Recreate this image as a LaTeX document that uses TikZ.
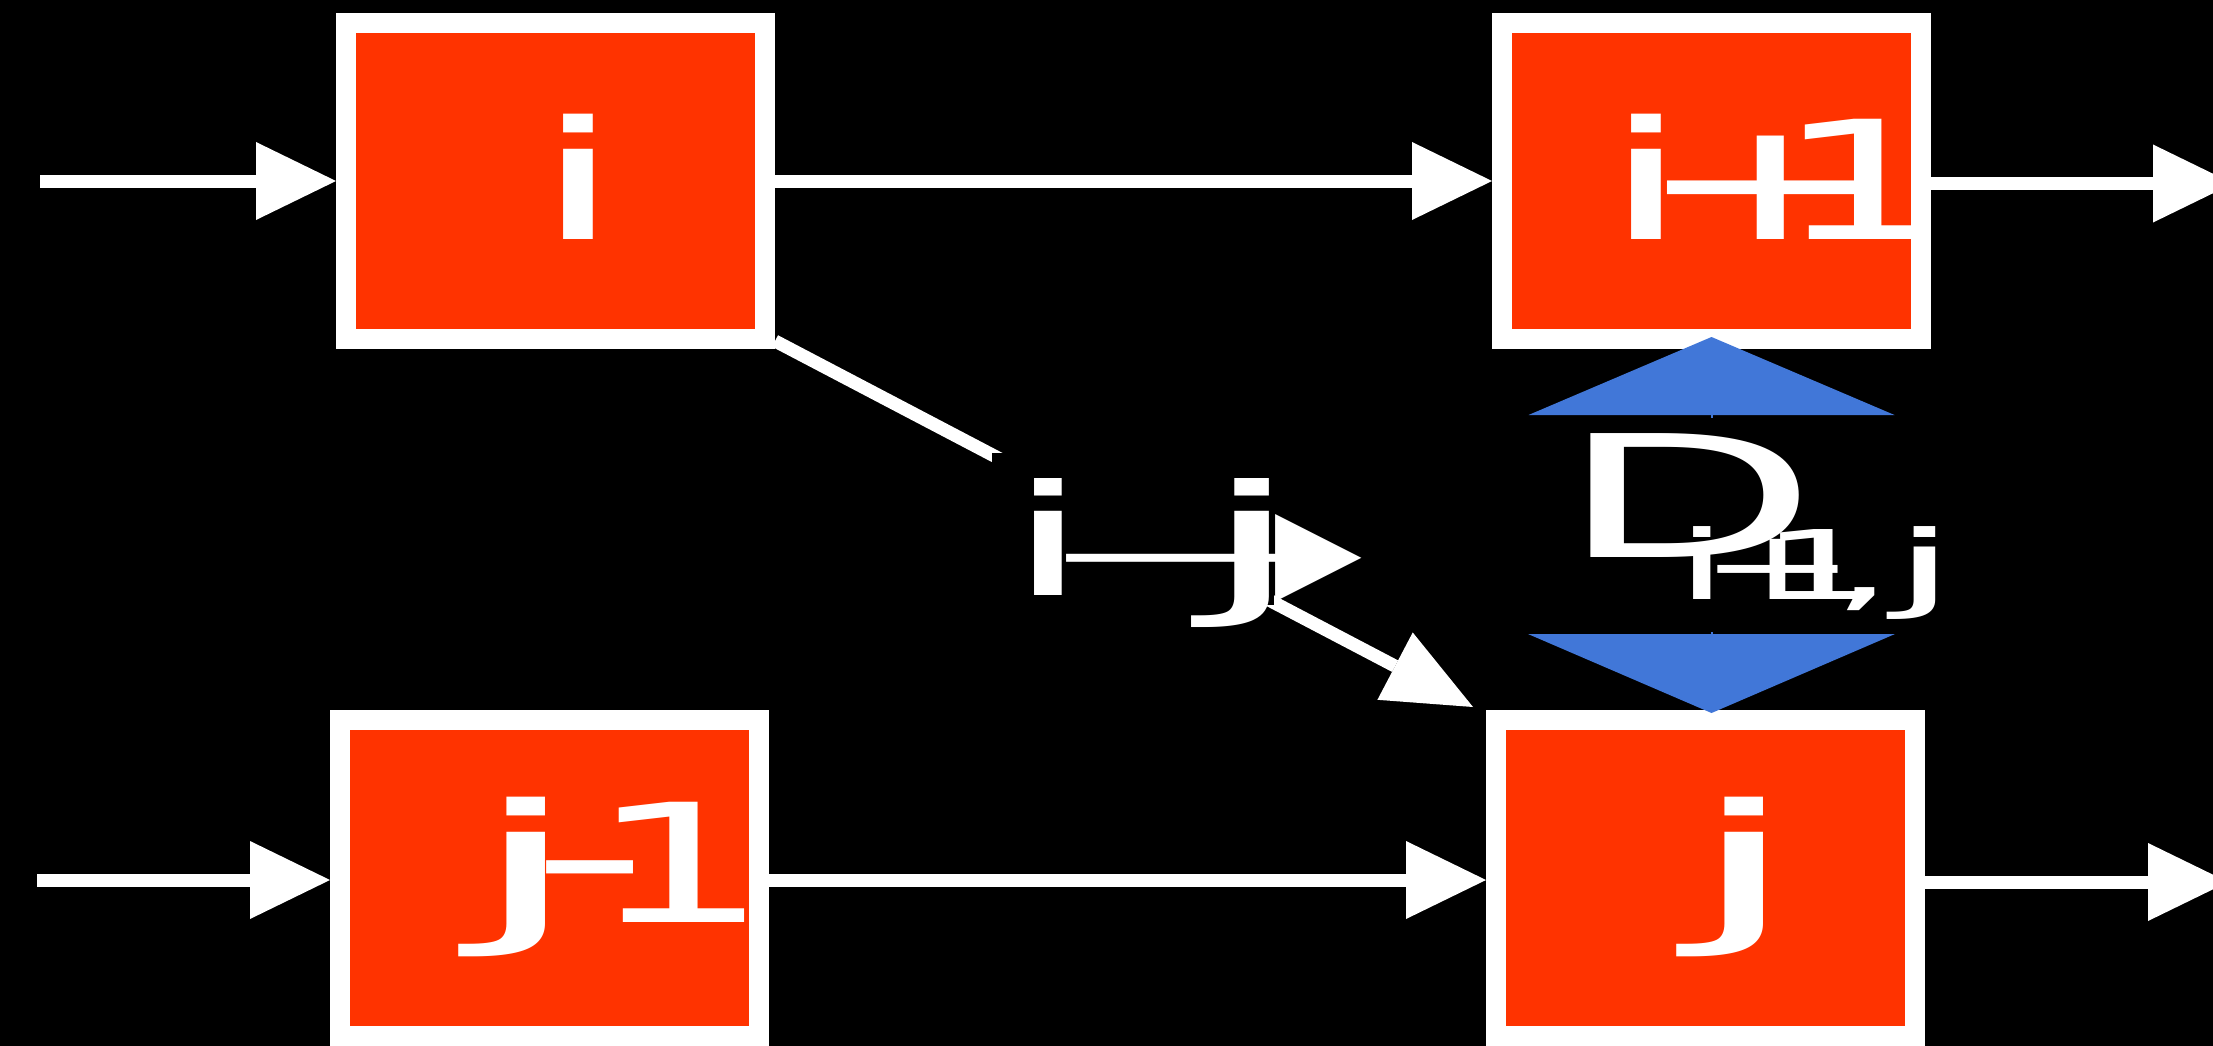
\documentclass[tikz,border=0pt]{standalone}
\usepackage{fontspec}
\usepackage{graphicx}
\usetikzlibrary{arrows.meta,calc}
\newfontfamily\djv{DejaVu Sans}
\definecolor{boxred}{HTML}{FF3300}
\definecolor{dblue}{HTML}{4177D8}
% glyph placed at offset (#2,#3) from the node reference, stretched #1 horizontally
\newcommand\gl[4][2]{\rlap{\hspace*{#2pt}\raisebox{#3pt}{\makebox[0pt]{\scalebox{#1}[1]{#4}}}}}
\newcommand\glxy[5]{\rlap{\hspace*{#3pt}\raisebox{#4pt}{\makebox[0pt]{\scalebox{#1}[#2]{#5}}}}}
\newcommand\fs[1]{\djv\fontsize{#1pt}{#1pt}\selectfont}
\begin{document}
\begin{tikzpicture}[x=1pt,y=-1pt,
  box/.style={rectangle, fill=boxred, draw=white, line width=20pt,
    minimum width=419pt, minimum height=316pt, inner sep=0pt,
    text height=0pt, text depth=0pt, text=white, font=\fs{165}},
  flow/.style={draw=white, line width=13pt,
    -{Triangle[length=80pt,width=78pt,line width=0pt]}},
  diag/.style={draw=white, line width=13pt,
    -{Triangle[length=88pt,width=76pt,line width=0pt]}},
  lab/.style={fill=black, inner sep=0pt, minimum width=282pt,
    minimum height=152pt, text height=137pt, text depth=15pt,
    text=white, font=\fs{154}},
  dbl/.style={draw=dblue, line width=2pt,
    {Triangle[length=78pt,width=366pt,line width=0pt]}-{Triangle[length=79pt,width=367pt,line width=0pt]}},
  dlab/.style={fill=black, inner sep=0pt, minimum width=40pt,
    minimum height=214pt, text height=0pt, text depth=0pt,
    text=white, font=\fs{170}}
]
\fill[black] (0,0) rectangle (2213,1046);
\useasboundingbox (0,0) rectangle (2213,1046);

\node[box] (i)   at (555.5,181) {\gl{22.5}{-58}{i}};
\node[box] (ip1) at (1711.5,181) {\gl{-65.5}{-58}{i}\gl{59.5}{-58}{+}\gl[1.7]{152.5}{-58}{1}};
\node[box] (jm1) at (549.5,878) {\gl[2.6]{-23}{-44}{j}\gl{40.5}{-34}{-}\gl[1.75]{130}{-44}{1}};
\node[box] (j)   at (1705.5,878) {\gl[2.6]{39}{-44}{j}};

\coordinate (inA) at (40,181);
\coordinate (outA) at (2233,183.5);
\coordinate (inB) at (37,880);
\coordinate (outB) at (2228,882);

\draw[flow] (inA) -- (i.west);
\draw[flow] (i.east) -- (ip1.west);
\draw[flow] (ip1.east |- outA) -- (outA);
\draw[flow] (inB) -- (jm1.west |- inB);
\draw[flow] (jm1.east |- inB) -- (j.west |- inB);
\draw[flow] (j.east |- outB) -- (outB);

\draw[diag] ($(i.south east)+(0,-8)$) -- node[lab, pos=0.513] (ij)
  {\gl{-84.5}{-6}{i}\gl[2.5]{119}{-6}{j}\glxy{2.62}{1.33}{79}{-33}{➝}} ($(j.north west)+(-13,-3)$);

\draw[dbl] ($(ip1.south)+(0,-12)$) -- node[dlab] (D)
  {\gl{-23}{-32}{D}{\fontsize{96pt}{96pt}\selectfont\gl{-9}{-74}{i}\gl{66}{-74}{+}\gl{109}{-74}{1}\gl{151}{-74}{,}\gl[2.5]{213}{-74}{j}}}
  ($(ip1.south |- j.north)+(0,3)$);
\end{tikzpicture}
\end{document}
